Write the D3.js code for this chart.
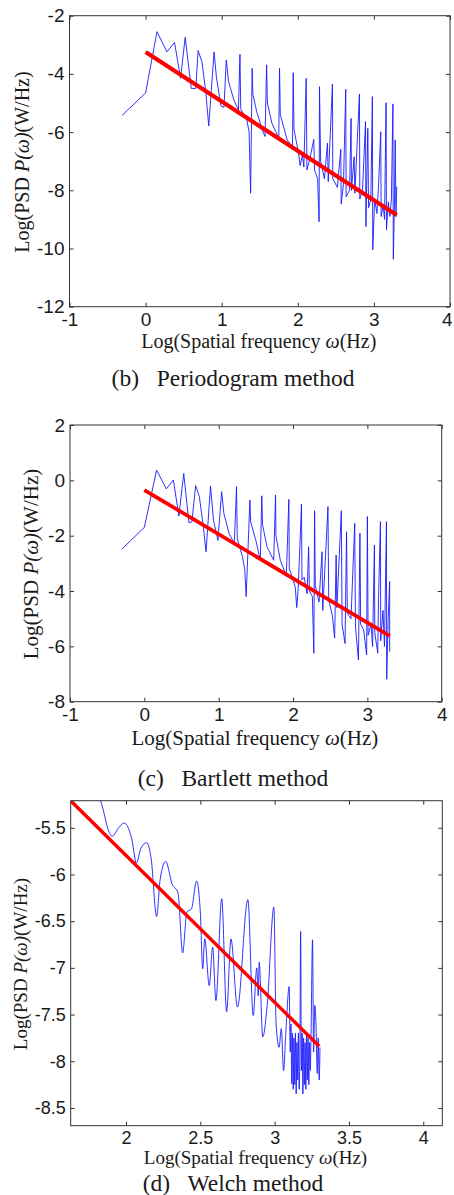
<!DOCTYPE html>
<html>
<head>
<meta charset="utf-8">
<script src="https://cdn.jsdelivr.net/npm/d3@7/dist/d3.min.js"></script>
<style>
  body { margin: 0; background: #fff; }
  svg { display: block; }
  .tick text { fill: #1a1a1a; font-family: "Liberation Sans", Arial, sans-serif; }
  .tick line { stroke: #333; }
  .lbl { fill: #1a1a1a; font-family: "Liberation Serif", "Times New Roman", serif; white-space: pre; }
</style>
</head>
<body>
<svg width="454" height="1195"></svg>
<script>
// (b) periodogram: [log frequency, log PSD]
var periodogram = [
  [-0.31,-5.43],[0,-4.65],[0.15,-2.55],[0.28,-3.24],[0.38,-2.92],[0.46,-4.15],[0.52,-2.74],
  [0.6,-4.5],[0.66,-4.5],[0.69,-3.2],[0.74,-3.58],[0.79,-4.6],[0.83,-5.79],[0.9,-3.24],
  [0.93,-4.1],[0.99,-5.1],[1.03,-5.15],[1.06,-3.52],[1.09,-4.26],[1.16,-4.9],[1.22,-5.24],
  [1.24,-3.33],[1.25,-5.2],[1.33,-5.58],[1.36,-6.0],[1.38,-8.1],[1.40,-3.81],[1.41,-4.7],
  [1.46,-5.3],[1.55,-6.04],[1.57,-6.15],[1.59,-3.69],[1.60,-5.0],[1.66,-5.7],[1.75,-6.2],
  [1.76,-3.81],[1.77,-5.4],[1.86,-6.27],[1.93,-6.5],[1.94,-3.96],[1.95,-5.9],[2.01,-6.73],
  [2.03,-7.15],[2.06,-6.8],[2.08,-7.2],[2.11,-4.15],[2.12,-7.3],[2.16,-6.9],[2.21,-6.25],
  [2.22,-7.3],[2.26,-7.6],[2.28,-9.08],[2.285,-4.44],[2.30,-7.0],[2.35,-7.6],[2.39,-6.38],
  [2.40,-7.7],[2.455,-4.35],[2.46,-7.6],[2.52,-7.9],[2.565,-6.59],[2.57,-8.47],[2.60,-7.8],
  [2.63,-4.53],[2.635,-8.22],[2.68,-8.0],[2.70,-5.53],[2.705,-8.0],[2.74,-6.85],[2.75,-8.1],
  [2.81,-4.69],[2.815,-8.3],[2.85,-8.0],[2.89,-5.64],[2.895,-9.25],[2.92,-5.87],[2.93,-8.6],
  [2.96,-8.3],[2.98,-4.78],[2.985,-10.05],[3.01,-8.3],[3.04,-8.8],[3.06,-7.9],[3.09,-5.99],
  [3.095,-8.9],[3.12,-8.5],[3.14,-9.0],[3.16,-4.99],[3.165,-9.36],[3.19,-8.4],[3.21,-8.9],
  [3.23,-8.3],[3.25,-5.03],[3.255,-10.37],[3.27,-8.5],[3.28,-6.27],[3.29,-8.9],[3.30,-7.88]
];
var fitB = [[0,-3.25],[3.3,-8.85]];

// (c) Bartlett
var bartlett = [
  [-0.305,-2.49],[0,-1.70],[0.165,0.37],[0.295,-0.31],[0.39,0.01],[0.465,-1.29],[0.53,0.25],
  [0.60,-1.53],[0.64,-1.5],[0.69,-0.19],[0.74,-0.59],[0.79,-1.6],[0.83,-2.58],[0.89,-0.20],
  [0.93,-1.44],[0.99,-2.17],[1.04,-0.41],[1.07,-1.2],[1.14,-1.92],[1.21,-2.28],[1.24,-0.23],
  [1.25,-2.1],[1.32,-2.76],[1.35,-3.2],[1.37,-4.2],[1.42,-0.71],[1.43,-1.5],[1.50,-2.17],
  [1.56,-2.89],[1.58,-0.56],[1.59,-1.6],[1.65,-2.4],[1.74,-2.89],[1.765,-0.53],[1.77,-2.0],
  [1.83,-2.9],[1.91,-3.44],[1.944,-0.69],[1.95,-3.2],[1.99,-3.5],[2.03,-3.86],[2.05,-4.6],
  [2.07,-3.9],[2.114,-0.86],[2.12,-3.6],[2.15,-3.5],[2.19,-4.1],[2.21,-2.4],[2.22,-4.0],
  [2.26,-4.2],[2.28,-6.25],[2.29,-1.10],[2.30,-3.8],[2.35,-4.4],[2.39,-2.58],[2.40,-4.7],
  [2.47,-0.95],[2.48,-4.3],[2.53,-4.9],[2.56,-5.7],[2.58,-2.70],[2.59,-4.6],[2.65,-1.10],
  [2.66,-5.2],[2.70,-5.9],[2.72,-1.86],[2.73,-4.8],[2.78,-5.0],[2.83,-1.55],[2.84,-5.3],
  [2.88,-6.49],[2.90,-1.91],[2.91,-5.2],[2.95,-5.4],[2.99,-6.31],[3.00,-1.31],[3.01,-5.6],
  [3.05,-5.2],[3.07,-6.0],[3.095,-2.34],[3.10,-5.5],[3.14,-6.25],[3.15,-4.3],[3.176,-1.49],
  [3.18,-5.8],[3.21,-4.7],[3.23,-6.0],[3.257,-1.49],[3.26,-7.19],[3.28,-5.0],[3.30,-3.66],
  [3.30,-6.19]
];
var fitC = [[0,-0.35],[3.3,-5.62]];

// (d) Welch
var welch = [
  [1.76,-4.8],[1.80,-5.05],[1.847,-5.31],[1.88,-5.52],[1.908,-5.59],[1.95,-5.5],[1.987,-5.45],
  [2.02,-5.52],[2.04,-5.63],[2.07,-5.88],[2.10,-5.72],[2.139,-5.66],[2.17,-5.84],[2.206,-6.45],
  [2.23,-6.05],[2.267,-5.86],[2.31,-6.1],[2.35,-6.2],[2.381,-6.84],[2.41,-6.4],[2.44,-6.37],
  [2.475,-6.07],[2.50,-6.4],[2.516,-7.01],[2.53,-6.69],[2.56,-7.19],[2.583,-6.78],[2.605,-7.35],
  [2.644,-6.26],[2.677,-7.47],[2.706,-6.69],[2.75,-7.42],[2.82,-6.27],[2.856,-7.51],[2.88,-7.0],
  [2.89,-7.3],[2.896,-6.94],[2.92,-7.74],[2.95,-7.4],[2.995,-6.35],[3.01,-7.6],[3.03,-7.85],
  [3.045,-7.65],[3.06,-8.1],[3.075,-7.7],[3.098,-7.20],[3.105,-7.9],[3.11,-7.6],[3.115,-8.24],
  [3.12,-7.7],[3.125,-8.3],[3.13,-7.75],[3.135,-8.25],[3.14,-7.7],[3.145,-8.35],[3.15,-7.8],
  [3.155,-8.2],[3.16,-7.7],[3.165,-8.3],[3.17,-7.9],[3.175,-6.61],[3.18,-8.1],[3.185,-7.7],
  [3.19,-8.35],[3.195,-7.75],[3.20,-8.25],[3.205,-7.8],[3.21,-8.3],[3.215,-7.7],[3.22,-8.2],
  [3.225,-7.75],[3.23,-8.25],[3.235,-7.8],[3.24,-8.1],[3.245,-7.7],[3.255,-6.70],[3.262,-7.9],
  [3.27,-7.4],[3.278,-7.6],[3.287,-8.13],[3.293,-7.75],[3.30,-8.2],[3.305,-7.85]
];
var fitD = [[1.628,-5.21],[3.3,-7.84]];

var xTicksB = [-1,0,1,2,3,4], yTicksB = [-12,-10,-8,-6,-4,-2];
var xTicksC = [-1,0,1,2,3,4], yTicksC = [-8,-6,-4,-2,0,2];
var xTicksD = [2,2.5,3,3.5,4], yTicksD = [-8.5,-8,-7.5,-7,-6.5,-6,-5.5];

var svg = d3.select("svg");

var panels = [
  { id: "b", data: periodogram, fit: fitB, xTicks: xTicksB, yTicks: yTicksB,
    xDomain: [-1,4], yDomain: [-12,-2], left: 69.5, right: 450, top: 15.7, bottom: 306.7,
    tickFont: 19, fitWidth: 4.2, curve: d3.curveLinear,
    labFont: 20, ylab: [29,162], xlabY: 348, caption: "(b)   Periodogram method", capY: 386, capFont: 23.5 },
  { id: "c", data: bartlett, fit: fitC, xTicks: xTicksC, yTicks: yTicksC,
    xDomain: [-1,4], yDomain: [-8,2], left: 70, right: 441.7, top: 425, bottom: 701.7,
    tickFont: 19, fitWidth: 3.8, curve: d3.curveLinear,
    labFont: 21, ylab: [38,564], xlabY: 745, caption: "(c)   Bartlett method", capY: 786, capFont: 23.5 },
  { id: "d", data: welch, fit: fitD, xTicks: xTicksD, yTicks: yTicksD,
    xDomain: [1.628,4.128], yDomain: [-8.69,-5.21], left: 70.7, right: 442.3, top: 800.7, bottom: 1125.7,
    tickFont: 18, fitWidth: 3.4, curve: d3.curveMonotoneX,
    labFont: 19, ylab: [27,964], xlabY: 1164, caption: "(d)   Welch method", capY: 1191, capFont: 23.5 }
];

panels.forEach(function(p) {
  var x = d3.scaleLinear().domain(p.xDomain).range([p.left, p.right]);
  var y = d3.scaleLinear().domain(p.yDomain).range([p.bottom, p.top]);
  var g = svg.append("g");
  var fmt = function(d) { return String(d); };

  g.append("clipPath").attr("id", "clip-" + p.id)
    .append("rect")
      .attr("x", p.left).attr("y", p.top)
      .attr("width", p.right - p.left).attr("height", p.bottom - p.top);

  var line = d3.line()
      .x(function(d) { return x(d[0]); })
      .y(function(d) { return y(d[1]); });

  var plot = g.append("g").attr("clip-path", "url(#clip-" + p.id + ")");

  plot.append("path")
      .datum(p.data)
      .attr("fill", "none")
      .attr("stroke", "#1a1aff")
      .attr("stroke-width", 0.9)
      .attr("d", line.curve(p.curve));

  plot.append("path")
      .datum(p.fit)
      .attr("fill", "none")
      .attr("stroke", "#ff0000")
      .attr("stroke-width", p.fitWidth)
      .attr("d", line.curve(d3.curveLinear));

  // axes, ticks pointing inward on all four sides
  g.append("g")
      .attr("transform", "translate(0," + p.bottom + ")")
      .call(d3.axisBottom(x).tickValues(p.xTicks).tickFormat(fmt).tickSize(-4).tickPadding(6));
  g.append("g")
      .attr("transform", "translate(" + p.left + ",0)")
      .call(d3.axisLeft(y).tickValues(p.yTicks).tickFormat(fmt).tickSize(-4).tickPadding(5));
  g.append("g")
      .attr("transform", "translate(0," + p.top + ")")
      .call(d3.axisTop(x).tickValues(p.xTicks).tickFormat("").tickSize(-4));
  g.append("g")
      .attr("transform", "translate(" + p.right + ",0)")
      .call(d3.axisRight(y).tickValues(p.yTicks).tickFormat("").tickSize(-4));

  g.selectAll(".domain").remove();
  g.selectAll(".tick text").style("font-size", p.tickFont + "px");

  // keep a label that would run past the page edge inside it
  g.selectAll(".tick text").each(function() {
    var b = this.getBBox(), m = this.getCTM();
    var over = m.e + b.x + b.width - 453;
    if (over > 0) d3.select(this).attr("x", -over);
  });

  g.append("rect")
      .attr("x", p.left).attr("y", p.top)
      .attr("width", p.right - p.left).attr("height", p.bottom - p.top)
      .attr("fill", "none").attr("stroke", "#333").attr("stroke-width", 1);

  // labels
  var xl = g.append("text").attr("class", "lbl")
      .attr("x", (p.left + p.right) / 2 - 1).attr("y", p.xlabY)
      .attr("text-anchor", "middle")
      .style("font-size", p.labFont + "px");
  xl.append("tspan").text("Log(Spatial frequency ");
  xl.append("tspan").style("font-style", "italic").text("ω");
  xl.append("tspan").text("(Hz)");

  var yl = g.append("text").attr("class", "lbl")
      .attr("transform", "translate(" + p.ylab[0] + "," + p.ylab[1] + ") rotate(-90)")
      .attr("text-anchor", "middle")
      .style("font-size", p.labFont + "px");
  yl.append("tspan").text("Log(PSD ");
  yl.append("tspan").style("font-style", "italic").text("P(ω)");
  yl.append("tspan").text("(W/Hz)");

  g.append("text").attr("class", "lbl")
      .attr("x", 233).attr("y", p.capY)
      .attr("text-anchor", "middle")
      .style("font-size", p.capFont + "px")
      .text(p.caption);
});
</script>
</body>
</html>
